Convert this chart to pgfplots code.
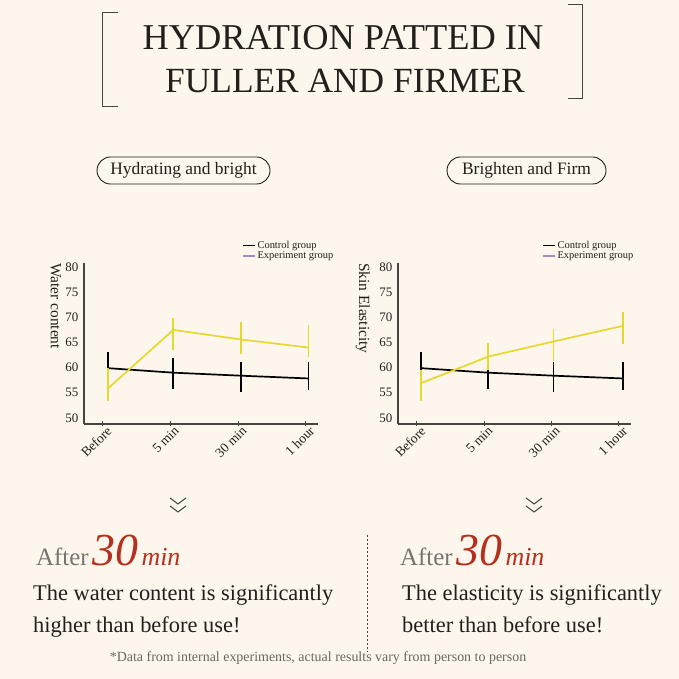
\documentclass[border=0pt]{standalone}
\usepackage{pgfplots}
\usepackage{pgfplotstable}
\pgfplotsset{compat=1.18}
\usepackage{fontspec}
\setmainfont{Liberation Serif}
\definecolor{bg}{RGB}{252,246,236}
\definecolor{ylw}{RGB}{230,216,46}
\definecolor{redt}{RGB}{181,48,28}
\definecolor{grayt}{RGB}{118,116,110}
\definecolor{ink}{RGB}{35,32,28}
\definecolor{axgray}{RGB}{70,68,64}
\definecolor{purp}{RGB}{163,139,200}
\definecolor{foot}{RGB}{107,102,95}

\pgfplotstableread{
x y ep em
0.07 59.9 3.3 3.3
1.04 59.0 3.0 3.2
2.04 58.4 2.8 3.3
3.04 57.85 3.25 2.25
}\ctrlL
\pgfplotstableread{
x y ep em
0.07 55.8 4.1 2.4
1.04 67.5 2.3 4.0
2.04 65.6 3.5 2.9
3.04 64.0 4.5 1.9
}\expL
\pgfplotstableread{
x y ep em
0.06 59.9 3.3 3.3
1.06 59.0 2.9 3.3
2.03 58.4 2.8 3.3
3.06 57.85 3.25 2.25
}\ctrlR
\pgfplotstableread{
x y ep em
0.06 56.9 2.7 3.5
1.06 62.2 2.6 2.6
2.03 65.2 2.5 3.8
3.06 68.3 2.7 3.7
}\expR

\pgfplotsset{myax/.style={
 scale only axis, height=161bp,
 xmin=-0.28, xmax=3.18, ymin=48.8, ymax=80.8,
 axis lines=left, axis line style={-, axgray, line width=1.1bp},
 xtick={0,1,2,3}, xticklabels={Before,5 min,30 min,1 hour},
 ytick={50,55,...,80},
 tick align=center, major tick length=5bp,
 xtick style={axgray, line width=1bp},
 ytick style={draw=none},
 x tick label style={rotate=45, anchor=north east, font=\fontsize{13.5}{14}\selectfont, text=ink, inner sep=1bp, xshift=4bp},
 y tick label style={font=\fontsize{13}{14}\selectfont, text=ink, inner sep=0pt, xshift=-3bp},
 /pgf/number format/assume math mode=true,
 legend style={anchor=north west, draw=none, fill=none, font=\fontsize{10.5}{11}\selectfont, text=ink, inner sep=0pt, row sep=-2bp, /tikz/every even column/.append style={column sep=2bp}},
 legend cell align=left,
 legend image code/.code={\draw[#1] (0bp,0bp) -- (12bp,0bp);},
 clip=false,
}}

\begin{document}
\begin{tikzpicture}[x=1bp,y=1bp]
\fill[bg] (0,0) rectangle (679,679);
\useasboundingbox (0,0) rectangle (679,679);

% title
\draw[axgray, line width=1bp] (118,679-12.7) -- (102,679-12.7) -- (102,679-107) -- (118,679-107);
\draw[axgray, line width=1bp] (568,679-5) -- (582,679-5) -- (582,679-99) -- (568,679-99);
\node[anchor=base, inner sep=0, text=ink, font=\fontsize{36.5}{36.5}\selectfont] at (343,679-50) {HYDRATION PATTED IN};
\node[anchor=base, inner sep=0, text=ink, font=\fontsize{35.5}{35.5}\selectfont] at (345,679-93) {FULLER AND FIRMER};

% subtitles
\draw[ink, line width=0.9bp, rounded corners=13.5bp] (97,679-157) rectangle (270,679-184);
\node[anchor=base, inner sep=0, text=ink, font=\fontsize{17.5}{17.5}\selectfont] at (183.5,679-175) {Hydrating and bright};
\draw[ink, line width=0.9bp, rounded corners=13.5bp] (447,679-157) rectangle (606,679-184);
\node[anchor=base, inner sep=0, text=ink, font=\fontsize{17.5}{17.5}\selectfont] at (526.5,679-175) {Brighten and Firm};

% left chart
\begin{axis}[myax, width=234bp, at={(84bp,255bp)}, anchor=south west,
  legend style={at={(0.675,1.15)}}]
\addplot[forget plot, black, line width=1.7bp, error bars/.cd, y dir=both, y explicit, error mark=none, error bar style={line width=1.7bp, black}]
  table[x=x, y=y, y error plus=ep, y error minus=em]{\ctrlL};
\addplot[forget plot, ylw, line width=1.7bp, error bars/.cd, y dir=both, y explicit, error mark=none, error bar style={line width=1.7bp, ylw}]
  table[x=x, y=y, y error plus=ep, y error minus=em]{\expL};
\addlegendimage{black, line width=1.4bp}
\addlegendentry{Control group}
\addlegendimage{purp, line width=1.2bp}
\addlegendentry{Experiment group}
\node[rotate=-90, anchor=north west, inner sep=0, text=ink, font=\fontsize{15.5}{15.5}\selectfont] at (rel axis cs:-0.098,1.0) {Water content};
\end{axis}

% right chart
\begin{axis}[myax, width=233bp, at={(398bp,255bp)}, anchor=south west,
  legend style={at={(0.618,1.15)}}]
\addplot[forget plot, black, line width=1.7bp, error bars/.cd, y dir=both, y explicit, error mark=none, error bar style={line width=1.7bp, black}]
  table[x=x, y=y, y error plus=ep, y error minus=em]{\ctrlR};
\addplot[forget plot, ylw, line width=1.7bp, error bars/.cd, y dir=both, y explicit, error mark=none, error bar style={line width=1.7bp, ylw}]
  table[x=x, y=y, y error plus=ep, y error minus=em]{\expR};
\addlegendimage{black, line width=1.4bp}
\addlegendentry{Control group}
\addlegendimage{purp, line width=1.2bp}
\addlegendentry{Experiment group}
\node[rotate=-90, anchor=north west, inner sep=0, text=ink, font=\fontsize{15.5}{15.5}\selectfont] at (rel axis cs:-0.12,1.0) {Skin Elasticity};
\end{axis}

% chevrons
\foreach \cx in {178,534} {
  \draw[axgray, line width=1bp] (\cx-8,679-498) -- (\cx,679-504) -- (\cx+8,679-498);
  \draw[axgray, line width=1bp] (\cx-8,679-506) -- (\cx,679-512) -- (\cx+8,679-506);
}

% dashed separator
\draw[axgray, line width=0.8bp, dash pattern=on 2bp off 2bp] (367,679-535) -- (367,679-652);

% After 30 min
\node[anchor=base west, inner sep=0] at (36,679-566) {\fontsize{25}{25}\selectfont\color{grayt}After\hspace{4bp}{\color{redt}\itshape\fontsize{46}{46}\selectfont 30\hspace{3bp}\fontsize{26}{26}\selectfont min}};
\node[anchor=base west, inner sep=0] at (400,679-566) {\fontsize{25}{25}\selectfont\color{grayt}After\hspace{4bp}{\color{redt}\itshape\fontsize{46}{46}\selectfont 30\hspace{3bp}\fontsize{26}{26}\selectfont min}};

\node[anchor=base west, inner sep=0, text=ink, font=\fontsize{22.5}{22.5}\selectfont] at (33,679-601) {The water content is significantly};
\node[anchor=base west, inner sep=0, text=ink, font=\fontsize{22.5}{22.5}\selectfont] at (33,679-633) {higher than before use!};
\node[anchor=base west, inner sep=0, text=ink, font=\fontsize{22.5}{22.5}\selectfont] at (402,679-601) {The elasticity is significantly};
\node[anchor=base west, inner sep=0, text=ink, font=\fontsize{22.5}{22.5}\selectfont] at (402,679-633) {better than before use!};

\node[anchor=base, inner sep=0, text=foot, font=\fontsize{14}{14}\selectfont] at (318,679-662) {*Data from internal experiments, actual results vary from person to person};
\end{tikzpicture}
\end{document}
